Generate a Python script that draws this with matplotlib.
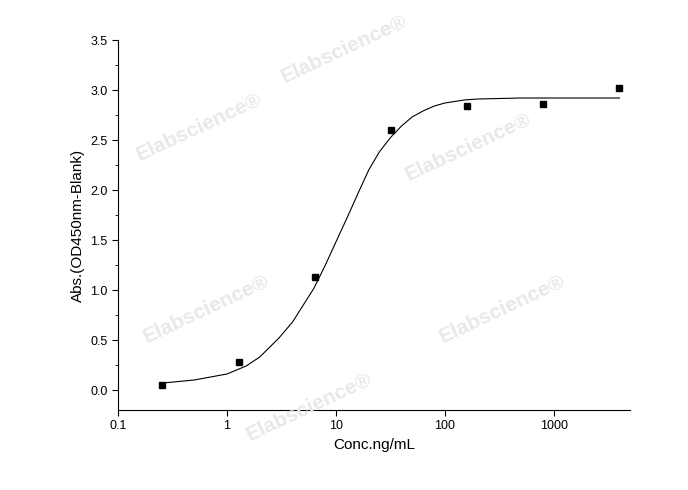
import numpy as np
import matplotlib
matplotlib.use('Agg')
import matplotlib.pyplot as plt
from matplotlib.ticker import MultipleLocator, FixedLocator, NullLocator

plt.rcParams['font.family'] = ['Liberation Sans', 'DejaVu Sans']

conc = [0.256, 1.28, 6.4, 32, 160, 800, 4000]
absval = [0.05, 0.28, 1.13, 2.60, 2.84, 2.86, 3.02]

# fitted curve
fit_x = [0.26, 0.5, 1, 1.5, 2, 3, 4, 6.3, 8, 10, 13, 16, 20, 25, 32, 40, 50, 63, 80, 100, 150, 200, 500, 4000]
fit_y = [0.07, 0.10, 0.16, 0.24, 0.33, 0.52, 0.68, 1.02, 1.25, 1.48, 1.75, 1.97, 2.2, 2.38, 2.53, 2.64, 2.73, 2.79, 2.84, 2.87, 2.90, 2.91, 2.92, 2.92]

fig = plt.figure(figsize=(6.88, 4.90), dpi=100)
ax = fig.add_axes([118/688, 80/490, 512/688, 370/490])
ax.plot(fit_x, fit_y, color='black', lw=0.8)
ax.plot(conc, absval, 's', color='black', ms=5)
ax.set_xscale('log')
ax.set_xlim(0.1, 5000)
ax.set_ylim(-0.2, 3.5)
ax.xaxis.set_major_locator(FixedLocator([0.1, 1, 10, 100, 1000]))
ax.set_xticklabels(['0.1', '1', '10', '100', '1000'])
ax.xaxis.set_minor_locator(NullLocator())
ax.yaxis.set_major_locator(MultipleLocator(0.5))
ax.yaxis.set_minor_locator(MultipleLocator(0.25))
ax.spines['top'].set_visible(False)
ax.spines['right'].set_visible(False)
ax.tick_params(labelsize=9, length=4)
ax.set_xlabel('Conc.ng/mL', fontsize=11)
ax.set_ylabel('Abs.(OD450nm-Blank)', fontsize=11)

for wx, wy in [(0.5, 0.9), (0.29, 0.74), (0.68, 0.7), (0.3, 0.37), (0.73, 0.37), (0.45, 0.17)]:
    fig.text(wx, wy, 'Elabscience\u00ae', fontsize=15, fontweight='bold', color='#e8e8e8',
             rotation=25, ha='center', va='center', zorder=0)

fig.savefig('out.png')
